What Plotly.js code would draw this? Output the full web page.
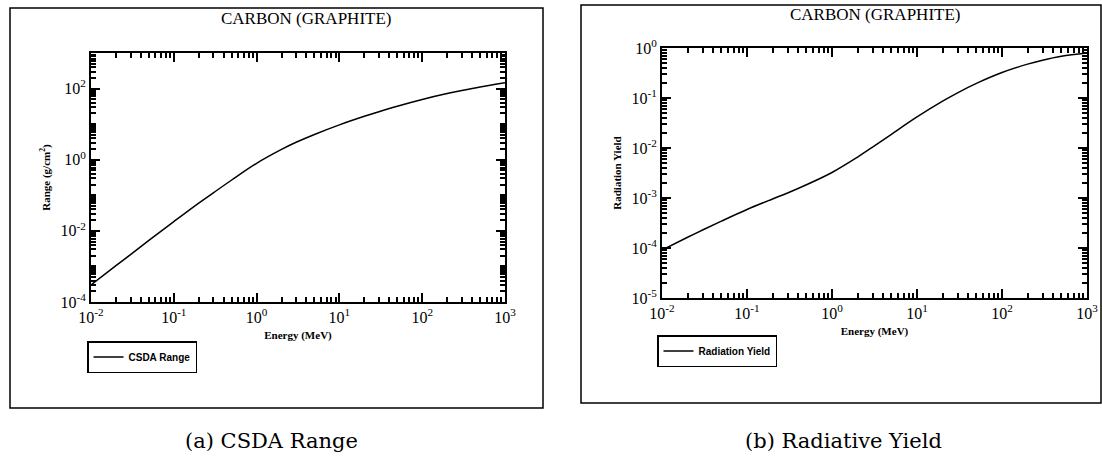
<!DOCTYPE html>
<html>
<head>
<meta charset="utf-8">
<script src="https://cdn.plot.ly/plotly-3.0.1.min.js"></script>
<style>
  html, body { margin: 0; padding: 0; background: #fff; }
  #chart { width: 1102px; height: 463px; }
</style>
</head>
<body>
<div id="chart"></div>
<script>
// ---- data ----
const energy = [0.01, 0.02, 0.03, 0.05, 0.1, 0.2, 0.3, 0.5, 1, 2, 3, 5, 10, 20, 30, 50, 100, 200, 300, 500, 1000];
const csdaRange = [3.02e-4, 1.05e-3, 2.16e-3, 5.37e-3, 1.82e-2, 6.03e-2, 0.117, 0.269, 0.794, 1.95, 3.09, 5.13, 9.55, 16.6, 22.4, 32.0, 49.5, 72.4, 88.1, 111, 146];
const radiationYield = [9.12e-5, 1.64e-4, 2.29e-4, 3.45e-4, 5.89e-4, 9.57e-4, 1.26e-3, 1.84e-3, 3.24e-3, 6.58e-3, 1.04e-2, 1.88e-2, 4.17e-2, 8.63e-2, 0.127, 0.196, 0.323, 0.476, 0.571, 0.684, 0.796];

const panelTitle = "CARBON (GRAPHITE)";
const xTitle = "Energy (MeV)";
const yTitleA = "Range (g/cm<sup>2</sup>)";
const yTitleB = "Radiation Yield";
const seriesA = "CSDA Range";
const seriesB = "Radiation Yield";
const captionA = "(a) CSDA Range";
const captionB = "(b) Radiative Yield";

const xTickVals = [0.01, 0.1, 1, 10, 100, 1000];
const xTickText = ["10<sup>-2</sup>", "10<sup>-1</sup>", "10<sup>0</sup>", "10<sup>1</sup>", "10<sup>2</sup>", "10<sup>3</sup>"];
const yTickValsA = [1e-4, 1e-2, 1, 100];
const yTickTextA = ["10<sup>-4</sup>", "10<sup>-2</sup>", "10<sup>0</sup>", "10<sup>2</sup>"];
const yOddDecadesA = [1e-3, 1e-1, 10, 1000];
const yTickValsB = [1e-5, 1e-4, 1e-3, 1e-2, 1e-1, 1];
const yTickTextB = ["10<sup>-5</sup>", "10<sup>-4</sup>", "10<sup>-3</sup>", "10<sup>-2</sup>", "10<sup>-1</sup>", "10<sup>0</sup>"];

// minor tick positions (2..9 per decade)
function minors(lo, hi) {
  const out = [];
  for (let p = lo; p < hi; p++) for (let m = 2; m <= 9; m++) out.push(m * Math.pow(10, p));
  return out;
}

const W = 1102, H = 463;
const px = v => v / W;
const py = v => 1 - v / H;

const serif = "Liberation Serif, Times New Roman, serif";
const tickFont = { family: serif, size: 16, color: "#000" };
const titleFont = { family: serif, size: 11, color: "#000", weight: "bold" };

const domXA = [px(91), px(505)], domYA = [1 - 302 / H, 1 - 53 / H];
const domXB = [px(662), px(1087)], domYB = [1 - 298 / H, 1 - 48 / H];

function xAxis(dom, anchor) {
  return {
    type: "log", domain: dom, anchor: anchor, range: [-2, 3], autorange: false,
    tickmode: "array", tickvals: xTickVals, ticktext: xTickText,
    ticks: "inside", ticklen: 9, tickwidth: 2, tickcolor: "#000",
    showline: true, linewidth: 2, linecolor: "#000", mirror: "allticks",
    showgrid: false, zeroline: false, tickfont: tickFont,
    minor: { tickmode: "array", tickvals: minors(-2, 3), ticks: "inside", ticklen: 5, tickwidth: 1.5, tickcolor: "#000", showgrid: false },
    title: { text: xTitle, font: titleFont, standoff: 6 }
  };
}
function yAxis(dom, anchor, lo, hi, tv, tt, ttl, extra) {
  return {
    type: "log", domain: dom, anchor: anchor, range: [lo, hi], autorange: false,
    tickmode: "array", tickvals: tv, ticktext: tt,
    ticks: "inside", ticklen: 9, tickwidth: 2, tickcolor: "#000",
    showline: true, linewidth: 2, linecolor: "#000", mirror: "allticks",
    showgrid: false, zeroline: false, tickfont: tickFont,
    minor: { tickmode: "array", tickvals: minors(lo, hi).concat(extra), ticks: "inside", ticklen: 5, tickwidth: 1.5, tickcolor: "#000", showgrid: false },
    title: { text: ttl, font: titleFont, standoff: 8 }
  };
}

const traces = [
  { x: energy, y: csdaRange, type: "scatter", mode: "lines", name: seriesA,
    line: { color: "#000", width: 1.5, shape: "spline", smoothing: 1 },
    xaxis: "x", yaxis: "y", legend: "legend" },
  { x: energy, y: radiationYield, type: "scatter", mode: "lines", name: seriesB,
    line: { color: "#000", width: 1.5, shape: "spline", smoothing: 1 },
    xaxis: "x2", yaxis: "y2", legend: "legend2" }
];

const legendCommon = {
  xanchor: "left", yanchor: "top", bgcolor: "#fff", bordercolor: "#000", borderwidth: 1.5,
  font: { family: "Liberation Sans, Arial, sans-serif", size: 10, color: "#000", weight: "bold" },
  itemwidth: 30
};

const layout = {
  width: W, height: H,
  margin: { l: 0, r: 0, t: 0, b: 0 },
  paper_bgcolor: "#fff", plot_bgcolor: "#fff",
  showlegend: true,
  xaxis: xAxis(domXA, "y"),
  yaxis: yAxis(domYA, "x", -4, 3, yTickValsA, yTickTextA, yTitleA, yOddDecadesA),
  xaxis2: xAxis(domXB, "y2"),
  yaxis2: yAxis(domYB, "x2", -5, 0, yTickValsB, yTickTextB, yTitleB, []),
  legend: Object.assign({ x: px(87), y: py(341) }, legendCommon),
  legend2: Object.assign({ x: px(657), y: py(335) }, legendCommon),
  shapes: [
    { type: "rect", xref: "paper", yref: "paper", x0: px(10), x1: px(543), y0: py(408), y1: py(8),
      line: { color: "#000", width: 1.5 }, layer: "below" },
    { type: "rect", xref: "paper", yref: "paper", x0: px(581), x1: px(1101), y0: py(403), y1: py(5),
      line: { color: "#000", width: 1.5 }, layer: "below" }
  ],
  annotations: [
    { text: panelTitle, xref: "paper", yref: "paper", x: px(306), y: py(18), xanchor: "center", yanchor: "middle",
      showarrow: false, font: { family: serif, size: 17, color: "#000" } },
    { text: panelTitle, xref: "paper", yref: "paper", x: px(875), y: py(15), xanchor: "center", yanchor: "middle",
      showarrow: false, font: { family: serif, size: 17, color: "#000" } },
    { text: captionA, xref: "paper", yref: "paper", x: px(271), y: py(441), xanchor: "center", yanchor: "middle",
      showarrow: false, font: { family: "DejaVu Serif, serif", size: 21, color: "#000" } },
    { text: captionB, xref: "paper", yref: "paper", x: px(843), y: py(441), xanchor: "center", yanchor: "middle",
      showarrow: false, font: { family: "DejaVu Serif, serif", size: 21, color: "#000" } }
  ]
};

Plotly.newPlot("chart", traces, layout, { displayModeBar: false });
</script>
</body>
</html>
